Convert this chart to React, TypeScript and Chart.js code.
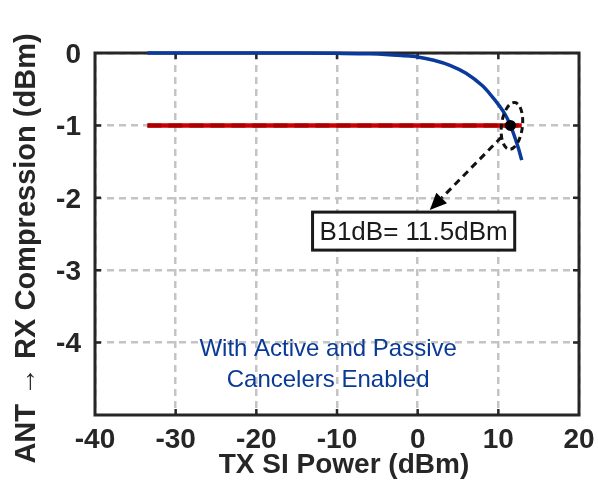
import React, { useEffect, useRef } from "react";
import { Chart, registerables } from "chart.js";

Chart.register(...registerables);

// ---- data ----
const txPower = [-33.5, -25, -15, -10, -6, -4, -2, 0, 2, 4, 6, 8, 9, 10, 11, 11.5, 12, 12.5, 12.9];
const compression = [0, 0, 0, -0.005, -0.012, -0.02, -0.035, -0.055, -0.1, -0.17, -0.28, -0.45, -0.57, -0.71, -0.88, -1.0, -1.15, -1.32, -1.48];
const refX = [-33.5, 12.9];
const refY = [-1, -1];
const xTicks = [-40, -30, -20, -10, 0, 10, 20];
const yTicks = [0, -1, -2, -3, -4];
const b1dbPoint = [11.5, -1];
const arrowFrom = [10.4, -1.16];
const arrowTo = [1.5, -2.17];
const labelCenter = [-0.5, -2.46];
const labelText = "B1dB= 11.5dBm";
const noteLines = ["With Active and Passive", "Cancelers Enabled"];
const noteYs = [-4.09, -4.52];
const noteX = -11.1;
const xTitle = "\u2002TX SI Power (dBm)";
const yTitle = "ANT \u2192 RX Compression (dBm)\u2002\u2002";

const FONT = "'Liberation Sans', Arial, sans-serif";
const DARK = "#262626";

const framePlugin = {
  id: "framePlugin",
  beforeDatasetsDraw(chart: any) {
    const { ctx, chartArea: a, scales } = chart;
    const x = scales.x;
    const y = scales.y;
    ctx.save();
    ctx.strokeStyle = DARK;
    ctx.lineWidth = 3;
    ctx.strokeRect(a.left, a.top, a.right - a.left, a.bottom - a.top);
    ctx.lineWidth = 2.5;
    ctx.beginPath();
    for (const v of xTicks) {
      const px = x.getPixelForValue(v);
      if (px <= a.left + 2 || px >= a.right - 2) continue;
      ctx.moveTo(px, a.top);
      ctx.lineTo(px, a.top + 6);
      ctx.moveTo(px, a.bottom);
      ctx.lineTo(px, a.bottom - 6);
    }
    for (const v of yTicks) {
      const py = y.getPixelForValue(v);
      if (py <= a.top + 2 || py >= a.bottom - 2) continue;
      ctx.moveTo(a.left, py);
      ctx.lineTo(a.left + 6, py);
      ctx.moveTo(a.right, py);
      ctx.lineTo(a.right - 6, py);
    }
    ctx.stroke();
    ctx.restore();
  },
  afterDatasetsDraw(chart: any) {
    const { ctx, scales } = chart;
    const x = scales.x;
    const y = scales.y;
    ctx.save();
    // dashed ellipse around B1dB point
    const cx = x.getPixelForValue(b1dbPoint[0]);
    const cy = y.getPixelForValue(b1dbPoint[1]);
    ctx.strokeStyle = "#111";
    ctx.lineWidth = 3;
    ctx.setLineDash([6, 4]);
    ctx.beginPath();
    ctx.ellipse(cx + 1.5, cy + 0.5, 10.5, 23.5, 0.12, 0, Math.PI * 2);
    ctx.stroke();
    // dot
    ctx.setLineDash([]);
    ctx.fillStyle = "#000";
    ctx.beginPath();
    ctx.arc(cx, cy, 5.5, 0, Math.PI * 2);
    ctx.fill();
    // arrow
    const x0 = x.getPixelForValue(arrowFrom[0]);
    const y0 = y.getPixelForValue(arrowFrom[1]);
    const x1 = x.getPixelForValue(arrowTo[0]);
    const y1 = y.getPixelForValue(arrowTo[1]);
    const ang = Math.atan2(y1 - y0, x1 - x0);
    const headLen = 17;
    const headW = 7.5;
    const bx = x1 - headLen * Math.cos(ang);
    const by = y1 - headLen * Math.sin(ang);
    ctx.setLineDash([7, 5]);
    ctx.lineWidth = 3;
    ctx.beginPath();
    ctx.moveTo(x0, y0);
    ctx.lineTo(bx, by);
    ctx.stroke();
    ctx.setLineDash([]);
    ctx.beginPath();
    ctx.moveTo(x1, y1);
    ctx.lineTo(bx + headW * Math.sin(ang), by - headW * Math.cos(ang));
    ctx.lineTo(bx - headW * Math.sin(ang), by + headW * Math.cos(ang));
    ctx.closePath();
    ctx.fill();
    // label box
    ctx.font = `26px ${FONT}`;
    const tw = ctx.measureText(labelText).width;
    const lx = x.getPixelForValue(labelCenter[0]);
    const ly = y.getPixelForValue(labelCenter[1]);
    const bw = tw + 14;
    const bh = 38;
    ctx.fillStyle = "#fff";
    ctx.fillRect(lx - bw / 2, ly - bh / 2, bw, bh);
    ctx.strokeStyle = "#1a1a1a";
    ctx.lineWidth = 3;
    ctx.strokeRect(lx - bw / 2, ly - bh / 2, bw, bh);
    ctx.fillStyle = "#1a1a1a";
    ctx.textAlign = "center";
    ctx.textBaseline = "middle";
    ctx.fillText(labelText, lx, ly + 1.5);
    // note text
    ctx.font = `24px ${FONT}`;
    ctx.fillStyle = "#0a3a96";
    noteLines.forEach((t, i) => {
      ctx.fillText(t, x.getPixelForValue(noteX), y.getPixelForValue(noteYs[i]));
    });
    ctx.restore();
  },
};

export default function App() {
  const ref = useRef<HTMLCanvasElement>(null);
  useEffect(() => {
    document.body.style.margin = "0";
    document.body.style.overflow = "hidden";
    if (!ref.current) return;
    const chart = new Chart(ref.current, {
      type: "line",
      data: {
        datasets: [
          {
            data: txPower.map((v, i) => ({ x: v, y: compression[i] })),
            borderColor: "#0a3a9c",
            borderWidth: 3.5,
            pointRadius: 0,
            cubicInterpolationMode: "monotone",
            clip: false,
            order: 1,
          } as any,
          {
            data: refX.map((v, i) => ({ x: v, y: refY[i] })),
            borderColor: "#a80000",
            borderWidth: 4,
            borderDash: [14, 7],
            pointRadius: 0,
            clip: false,
            order: 2,
          } as any,
          {
            data: refX.map((v, i) => ({ x: v, y: refY[i] })),
            borderColor: "#cc0000",
            borderWidth: 4.5,
            pointRadius: 0,
            clip: false,
            order: 3,
          } as any,
        ],
      },
      options: {
        responsive: false,
        animation: false,
        layout: { padding: { top: 53, right: 19, left: 0, bottom: 0 } },
        plugins: { legend: { display: false }, tooltip: { enabled: false } },
        scales: {
          x: {
            type: "linear",
            min: -40,
            max: 20,
            afterBuildTicks: (s: any) => {
              s.ticks = xTicks.map((v) => ({ value: v }));
            },
            afterFit: (s: any) => {
              s.height = 67;
              s.paddingLeft = 0;
              s.paddingRight = 0;
            },
            grid: { color: "#c4c4c4", lineWidth: 2.5, drawTicks: false },
            border: { display: false, dash: [7, 5] },
            ticks: {
              padding: 8,
              maxRotation: 0,
              autoSkip: false,
              color: DARK,
              font: { family: FONT, size: 28, weight: "bold" },
              callback: (v: any) => String(v),
            },
            title: {
              display: true,
              text: xTitle,
              color: DARK,
              font: { family: FONT, size: 28, weight: "bold" },
              padding: { top: 0, bottom: 0 },
            },
          },
          y: {
            type: "linear",
            min: -5,
            max: 0,
            afterBuildTicks: (s: any) => {
              s.ticks = yTicks.map((v) => ({ value: v }));
            },
            afterFit: (s: any) => {
              s.width = 95;
              s.paddingTop = 0;
              s.paddingBottom = 0;
            },
            grid: { color: "#c4c4c4", lineWidth: 2.5, drawTicks: false },
            border: { display: false, dash: [7, 5] },
            ticks: {
              padding: 14,
              labelOffset: 2,
              autoSkip: false,
              color: DARK,
              font: { family: FONT, size: 28, weight: "bold" },
              callback: (v: any) => String(v),
            },
            title: {
              display: true,
              text: yTitle,
              color: DARK,
              font: { family: FONT, size: 29, weight: "bold" },
              padding: { top: 10, bottom: 0 },
            },
          },
        },
      } as any,
      plugins: [framePlugin],
    });
    return () => chart.destroy();
  }, []);
  return <canvas ref={ref} width={598} height={482} style={{ display: "block" }} />;
}
